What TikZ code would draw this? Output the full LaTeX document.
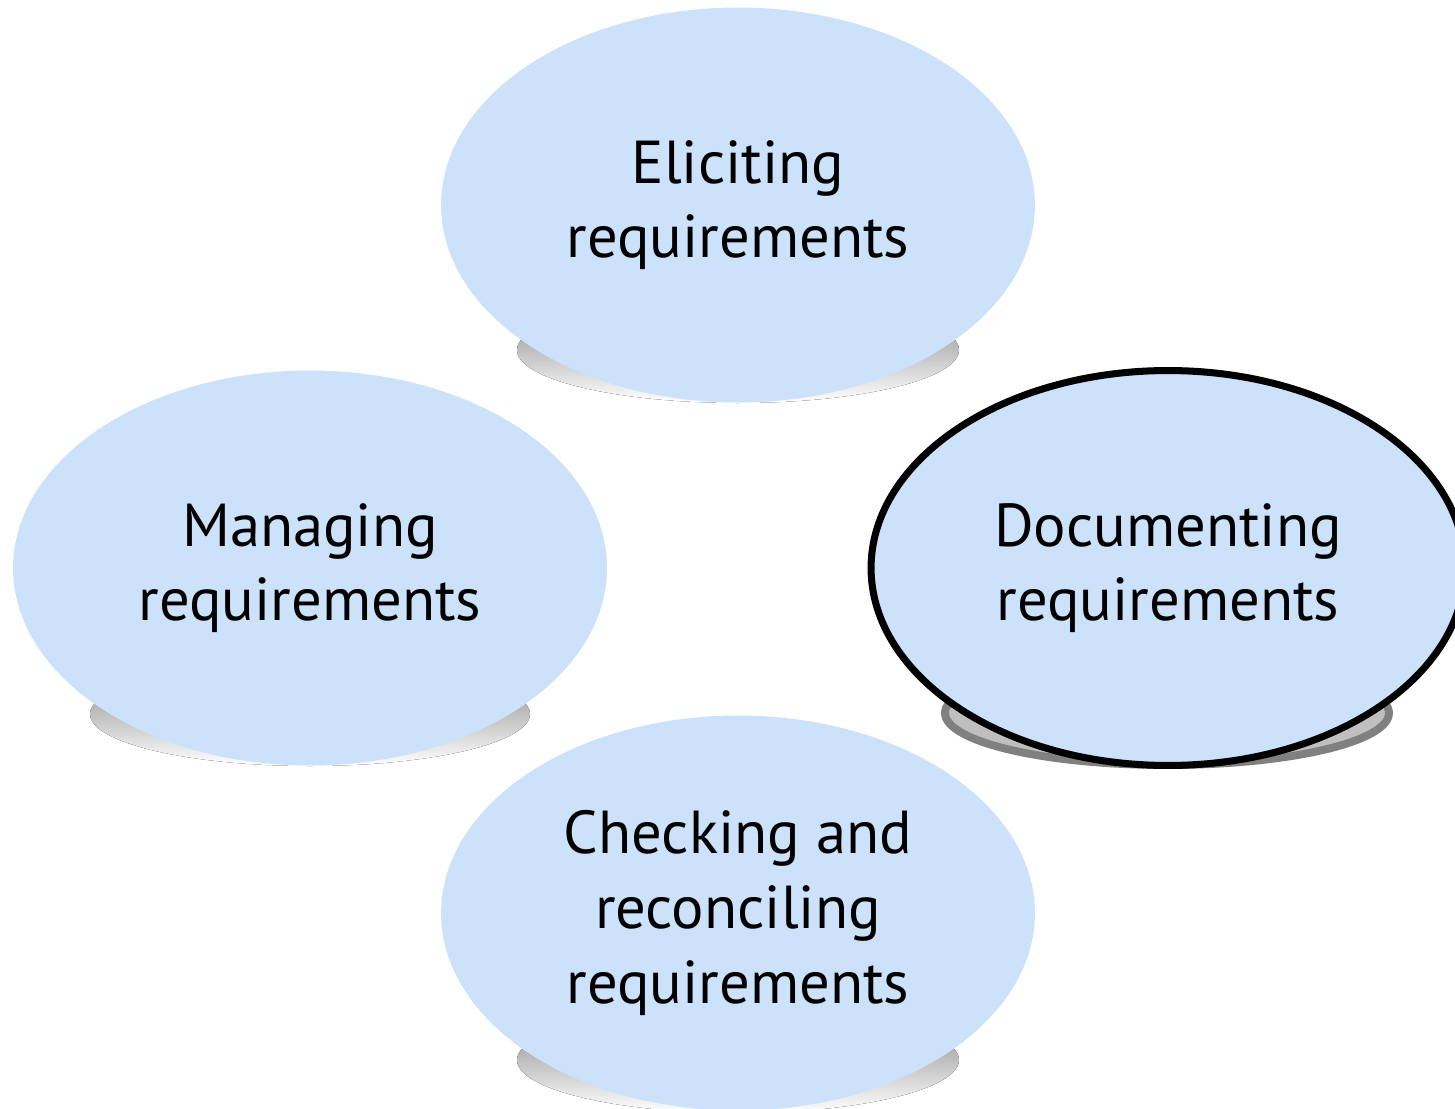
\documentclass[tikz,border=0pt]{standalone}
\usepackage{fontspec}
\setmainfont{PT Sans}
\usetikzlibrary{shapes.geometric}
\definecolor{bubble}{HTML}{CCE1FA}
\definecolor{shade}{HTML}{BFBFBF}
\definecolor{rim}{HTML}{808080}
\newcommand{\reqs}{requirements}

\begin{document}
\begin{tikzpicture}[x=0.02cm,y=-0.02cm,
    task/.style={ellipse,fill=bubble,minimum width=11.88cm,minimum height=7.9cm,
      inner sep=0pt,align=center,font=\fontsize{34.5}{42.5}\selectfont,
      execute at begin node={\rule{0pt}{33pt}}}]
  \useasboundingbox (0,0) rectangle (1455,1109);
  \fill[shade] ( 738, 350) ellipse (221 and 53);
  \fill[shade] ( 310, 714) ellipse (220 and 52);
  \fill[shade] ( 738,1060) ellipse (221 and 53);
  \filldraw[fill=shade,draw=rim,line width=4.5pt] (1167, 713) ellipse (222 and 52);
  \node[task] (elicit) at ( 738, 205) {Eliciting\\ \reqs};
  \node[task] (manage) at ( 310, 568) {Managing\\ \reqs};
  \node[task,draw=black,line width=4pt] (document) at (1168, 568) {Documenting\\ \reqs};
  \node[task] (check)  at ( 738, 913) {Checking and\\ reconciling\\ \reqs};
\end{tikzpicture}
\end{document}
